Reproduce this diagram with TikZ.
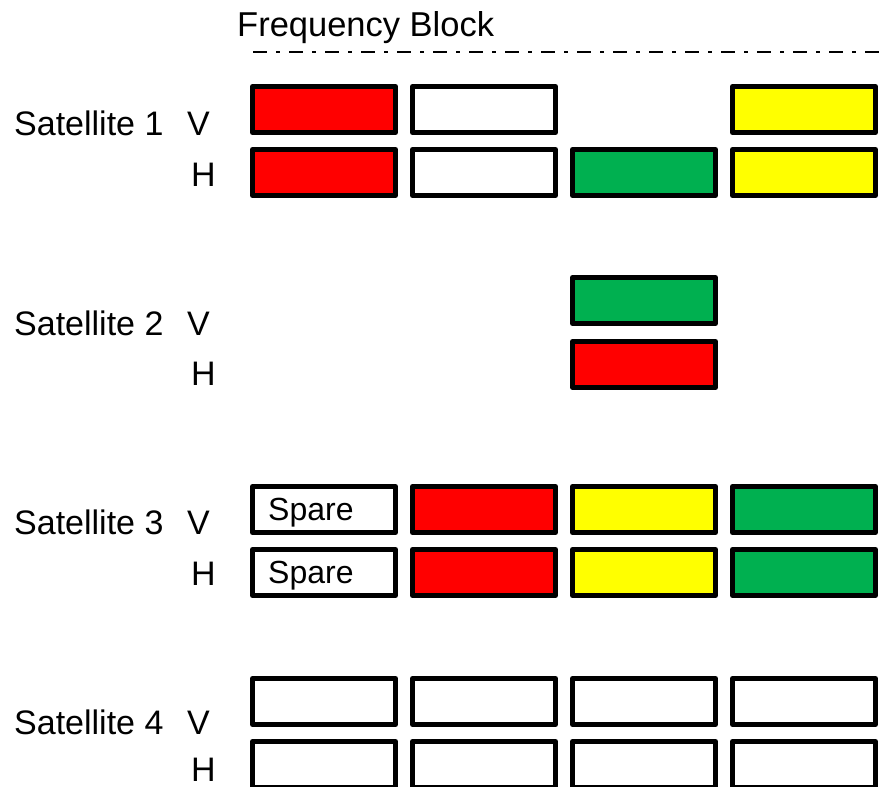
\documentclass[tikz,border=0pt]{standalone}
\usepackage{fontspec}
\setmainfont{Liberation Sans}
\usepackage{tikz}
\usetikzlibrary{positioning}

\definecolor{bandred}{RGB}{255,0,0}
\definecolor{bandgreen}{RGB}{0,176,80}
\definecolor{bandyellow}{RGB}{255,255,0}

\tikzset{
  band/.style={draw, line width=5pt, line join=round, fill=white,
    minimum width=143pt, minimum height=46pt, inner sep=0pt},
  lbl/.style={anchor=base west, inner sep=0pt, font=\fontsize{34}{40}\selectfont},
  spare/.style={inner sep=0pt, font=\fontsize{32}{38}\selectfont},
}

\begin{document}
\begin{tikzpicture}[x=1pt,y=-1pt]
     \useasboundingbox (0,0) rectangle (884,787);
     \node[lbl, font=\fontsize{34.5}{41}\selectfont] (freq) at (237,36) {Frequency Block};
     \draw[line width=2.5pt, dash pattern=on 14pt off 9pt on 4pt off 9pt] (253,52) -- (880,52);
     % satellite 1
     \node[lbl] (sat1) at (14,135) {Satellite 1};
     \node[lbl] (sat1v) at (187,135) {V};
     \node[lbl] (sat1h) at (191,186) {H};
     \node[band, fill=bandred] (s1v1) at (324,109.5) {};
     \node[band] (s1v2) at (484,109.5) {};
     \node[band, fill=bandyellow] (s1v4) at (804,109.5) {};
     \node[band, fill=bandred] (s1h1) at (324,172.5) {};
     \node[band] (s1h2) at (484,172.5) {};
     \node[band, fill=bandgreen] (s1h3) at (644,172.5) {};
     \node[band, fill=bandyellow] (s1h4) at (804,172.5) {};
     % satellite 2
     \node[lbl] (sat2) at (14,335) {Satellite 2};
     \node[lbl] (sat2v) at (187,335) {V};
     \node[lbl] (sat2h) at (191,385) {H};
     \node[band, fill=bandgreen] (s2v3) at (644,300.5) {};
     \node[band, fill=bandred] (s2h3) at (644,364.5) {};
     % satellite 3
     \node[lbl] (sat3) at (14,534) {Satellite 3};
     \node[lbl] (sat3v) at (187,534) {V};
     \node[lbl] (sat3h) at (191,585) {H};
     \node[band] (s3v1) at (324,509.5) {};
     \node[band, fill=bandred] (s3v2) at (484,509.5) {};
     \node[band, fill=bandyellow] (s3v3) at (644,509.5) {};
     \node[band, fill=bandgreen] (s3v4) at (804,509.5) {};
     \node[band] (s3h1) at (324,572.5) {};
     \node[band, fill=bandred] (s3h2) at (484,572.5) {};
     \node[band, fill=bandyellow] (s3h3) at (644,572.5) {};
     \node[band, fill=bandgreen] (s3h4) at (804,572.5) {};
     \node[spare, right=18pt of s3v1.west, yshift=-3pt] (sparev) {Spare};
     \node[spare, right=18pt of s3h1.west, yshift=-3pt] (spareh) {Spare};
     % satellite 4
     \node[lbl] (sat4) at (14,734) {Satellite 4};
     \node[lbl] (sat4v) at (187,734) {V};
     \node[lbl] (sat4h) at (191,781) {H};
     \node[band] (s4v1) at (324,701.5) {};
     \node[band] (s4v2) at (484,701.5) {};
     \node[band] (s4v3) at (644,701.5) {};
     \node[band] (s4v4) at (804,701.5) {};
     \node[band] (s4h1) at (324,764.5) {};
     \node[band] (s4h2) at (484,764.5) {};
     \node[band] (s4h3) at (644,764.5) {};
     \node[band] (s4h4) at (804,764.5) {};
\end{tikzpicture}
\end{document}
